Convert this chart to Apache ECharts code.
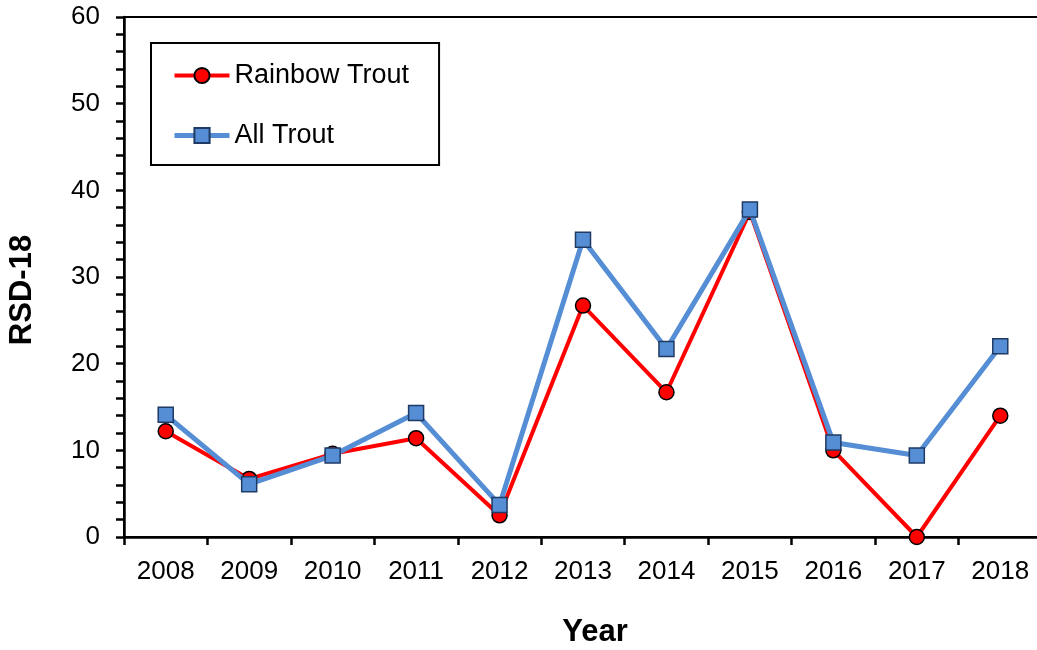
<!DOCTYPE html>
<html>
<head>
<meta charset="utf-8">
<script src="https://cdn.jsdelivr.net/npm/echarts@6/dist/echarts.min.js"></script>
<style>html,body{margin:0;padding:0;background:#fff;}#c{width:1037px;height:650px;}</style>
</head>
<body>
<div id="c"></div>
<script>
const years = ['2008','2009','2010','2011','2012','2013','2014','2015','2016','2017','2018'];
const rainbowTrout = [12.2, 6.7, 9.6, 11.4, 2.5, 26.7, 16.7, 37.5, 10.0, 0.0, 14.0];
const allTrout = [14.1, 6.1, 9.4, 14.3, 3.7, 34.3, 21.7, 37.8, 10.9, 9.4, 22.0];
const yTicks = [0, 10, 20, 30, 40, 50, 60];

const chart = echarts.init(document.getElementById('c'), null, {renderer: 'canvas'});
const font = 'Arial, "Liberation Sans", sans-serif';
chart.setOption({
  animation: false,
  backgroundColor: '#fff',
  grid: {left: 124, right: -5, top: 17, bottom: 113, show: true, borderColor: '#000', borderWidth: 2, backgroundColor: 'transparent', containLabel: false, outerBoundsMode: 'none'},
  legend: {
    orient: 'vertical', left: 151, top: 43,
    padding: [19, 30, 16, 21],
    itemGap: 33, itemWidth: 55, itemHeight: 19,
    borderColor: '#000', borderWidth: 2,
    textStyle: {fontFamily: font, fontSize: 27, color: '#000'},
    data: [
      {name: 'Rainbow Trout', lineStyle: {width: 4, color: '#FF0000'}},
      {name: 'All Trout', lineStyle: {width: 5, color: '#558ED5'}}
    ]
  },
  xAxis: {
    type: 'category', data: years, boundaryGap: true,
    name: 'Year', nameLocation: 'middle', nameGap: 80,
    nameTextStyle: {fontFamily: font, fontSize: 31, fontWeight: 'bold', color: '#000', padding: [0, 0, 0, 24]},
    axisLine: {lineStyle: {color: '#000', width: 2.5}},
    axisTick: {show: true, length: 8, lineStyle: {color: '#000', width: 2.5}},
    axisLabel: {fontFamily: font, fontSize: 26, color: '#000', margin: 22},
    splitLine: {show: false}
  },
  yAxis: {
    type: 'value', min: yTicks[0], max: yTicks[yTicks.length - 1], interval: 10,
    name: 'RSD-18', nameLocation: 'middle', nameGap: 86, nameRotate: 90,
    nameTextStyle: {fontFamily: font, fontSize: 31, fontWeight: 'bold', color: '#000', padding: [0, 26, 0, 0]},
    axisLine: {show: true, lineStyle: {color: '#000', width: 2.5}},
    axisTick: {show: true, length: 8, lineStyle: {color: '#000', width: 2.5}},
    minorTick: {show: true, splitNumber: 5, length: 8, lineStyle: {color: '#000', width: 2.5}},
    axisLabel: {fontFamily: font, fontSize: 26, color: '#000', margin: 24},
    splitLine: {show: false}
  },
  series: [
    {
      name: 'Rainbow Trout', type: 'line', data: rainbowTrout,
      symbol: 'circle', symbolSize: 15,
      lineStyle: {color: '#FF0000', width: 4},
      itemStyle: {color: '#FF0000', borderColor: '#000', borderWidth: 1.5},
      z: 2
    },
    {
      name: 'All Trout', type: 'line', data: allTrout,
      symbol: 'rect', symbolSize: 15,
      lineStyle: {color: '#558ED5', width: 5},
      itemStyle: {color: '#558ED5', borderColor: '#1F3A64', borderWidth: 1.5},
      z: 3
    }
  ]
});
</script>
</body>
</html>
